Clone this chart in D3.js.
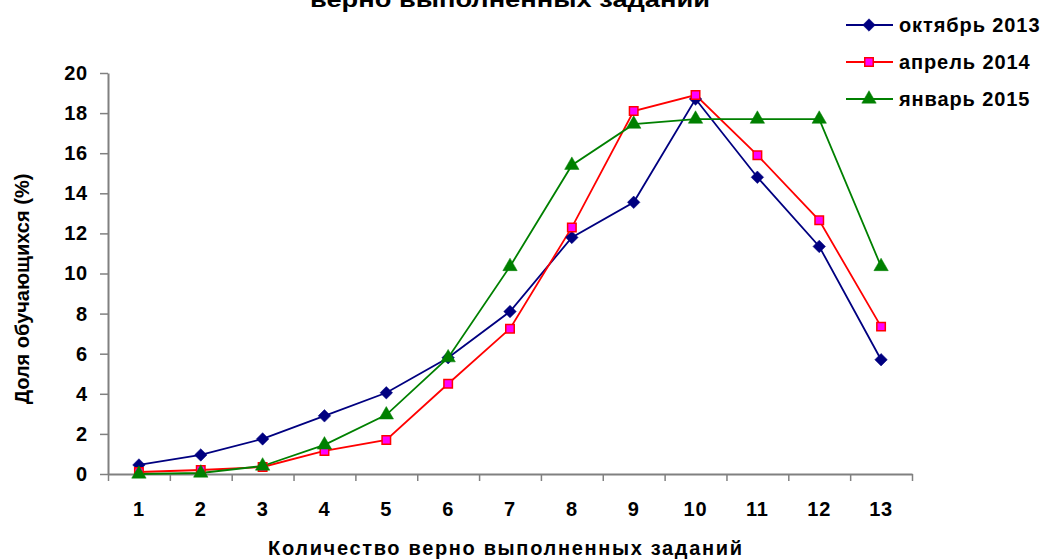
<!DOCTYPE html>
<html>
<head>
    <meta charset="utf-8">
    <script src="https://d3js.org/d3.v7.min.js"></script>
    <style>
        body { margin: 0px; background: #fff; }
        svg text { font-family: "Liberation Sans", Arial, sans-serif; font-weight: bold; fill: #000; }
        .domain { stroke: #808080; stroke-width: 2; }
        .tick line { stroke: #808080; stroke-width: 1.5; }
        .tick text { font-size: 20px; letter-spacing: 0.8px; }
    </style>
</head>
<body>
    <svg width="1052" height="559"></svg>
    <script>
        // categories and series values (%)
        const categories = ['1', '2', '3', '4', '5', '6', '7', '8', '9', '10', '11', '12', '13'];
        const oct2013 = [0.45, 0.95, 1.75, 2.9, 4.05, 5.8, 8.1, 11.8, 13.55, 18.7, 14.8, 11.35, 5.7];
        const apr2014 = [0.1, 0.2, 0.35, 1.15, 1.7, 4.5, 7.25, 12.3, 18.1, 18.9, 15.9, 12.65, 7.35];
        const jan2015 = [0.0, 0.05, 0.4, 1.45, 2.95, 5.8, 10.35, 15.4, 17.45, 17.7, 17.7, 17.7, 10.35];
        const yTickValues = [0, 2, 4, 6, 8, 10, 12, 14, 16, 18, 20];
        const seriesNames = ['октябрь 2013', 'апрель 2014', 'январь 2015'];

        // diamond = square turned 45 degrees
        const series = [
            { name: seriesNames[0], values: oct2013, stroke: '#000080', fill: '#000080', shape: d3.symbolSquare, size: 78, rot: 45 },
            { name: seriesNames[1], values: apr2014, stroke: '#ff0000', fill: '#ff00ff', shape: d3.symbolSquare, size: 72, rot: 0 },
            { name: seriesNames[2], values: jan2015, stroke: '#008000', fill: '#008000', shape: d3.symbolTriangle, size: 90, rot: 0 }
        ];

        const svg = d3.select('svg');
        const plotLeft = 108, plotRight = 912, plotTop = 73, plotBottom = 474;

        const xScale = d3.scaleBand().domain(categories).range([plotLeft, plotRight]).padding(0);
        const xEdge = d3.scaleLinear().domain([0, categories.length]).range([plotLeft, plotRight]);
        const yScale = d3.scaleLinear().domain([0, 20]).range([plotBottom, plotTop]);
        const xc = i => xScale(categories[i]) + xScale.bandwidth() / 2;

        // title (only the bottom of its second line is on the page)
        svg.append('text')
            .attr('x', 510)
            .attr('y', 7)
            .attr('text-anchor', 'middle')
            .attr('textLength', 400)
            .attr('lengthAdjust', 'spacingAndGlyphs')
            .style('font-size', '22px')
            .text('верно выполненных заданий');

        // y axis
        svg.append('g')
            .attr('transform', `translate(${plotLeft},0)`)
            .call(d3.axisLeft(yScale).tickValues(yTickValues).tickSize(8).tickPadding(12).tickSizeOuter(0));

        // x axis: boundary ticks
        svg.append('g')
            .attr('transform', `translate(0,${plotBottom})`)
            .call(d3.axisBottom(xEdge).ticks(categories.length).tickFormat('').tickSize(7).tickSizeOuter(0));

        // x axis: category labels
        const xLab = svg.append('g')
            .attr('transform', `translate(0,${plotBottom})`)
            .call(d3.axisBottom(xScale).tickSize(0).tickPadding(28));
        xLab.select('.domain').remove();

        // axis titles
        svg.append('text')
            .attr('x', 505)
            .attr('y', 555)
            .attr('text-anchor', 'middle')
            .attr('textLength', 474)
            .attr('lengthAdjust', 'spacing')
            .style('font-size', '20px')
            .text('Количество верно выполненных заданий');

        svg.append('text')
            .attr('transform', 'translate(29,289) rotate(-90)')
            .attr('text-anchor', 'middle')
            .style('font-size', '20px')
            .text('Доля обучающихся (%)');

        const line = d3.line()
            .x((d, i) => xc(i))
            .y(d => yScale(d));

        series.forEach(s => {
            svg.append('path')
                .datum(s.values)
                .attr('fill', 'none')
                .attr('stroke', s.stroke)
                .attr('stroke-width', 1.8)
                .attr('d', line);
        });

        series.forEach(s => {
            svg.append('g').selectAll('path')
                .data(s.values)
                .join('path')
                .attr('transform', (d, i) => `translate(${xc(i)},${yScale(d)}) rotate(${s.rot})`)
                .attr('d', d3.symbol().type(s.shape).size(s.size))
                .attr('fill', s.fill)
                .attr('stroke', s.stroke)
                .attr('stroke-width', s.fill !== s.stroke ? 1.5 : 0.5);
        });

        // legend
        const legend = svg.append('g');
        series.forEach((s, i) => {
            const y = 25 + i * 37;
            legend.append('line')
                .attr('x1', 846).attr('x2', 893)
                .attr('y1', y).attr('y2', y)
                .attr('stroke', s.stroke)
                .attr('stroke-width', 1.8);
            legend.append('path')
                .attr('transform', `translate(869,${y}) rotate(${s.rot})`)
                .attr('d', d3.symbol().type(s.shape).size(s.size))
                .attr('fill', s.fill)
                .attr('stroke', s.stroke)
                .attr('stroke-width', s.fill !== s.stroke ? 1.5 : 0.5);
            legend.append('text')
                .attr('x', 899)
                .attr('y', y)
                .attr('dy', '0.35em')
                .style('font-size', '20px')
                .style('letter-spacing', '0.9px')
                .text(s.name);
        });
    </script>
</body>
</html>
